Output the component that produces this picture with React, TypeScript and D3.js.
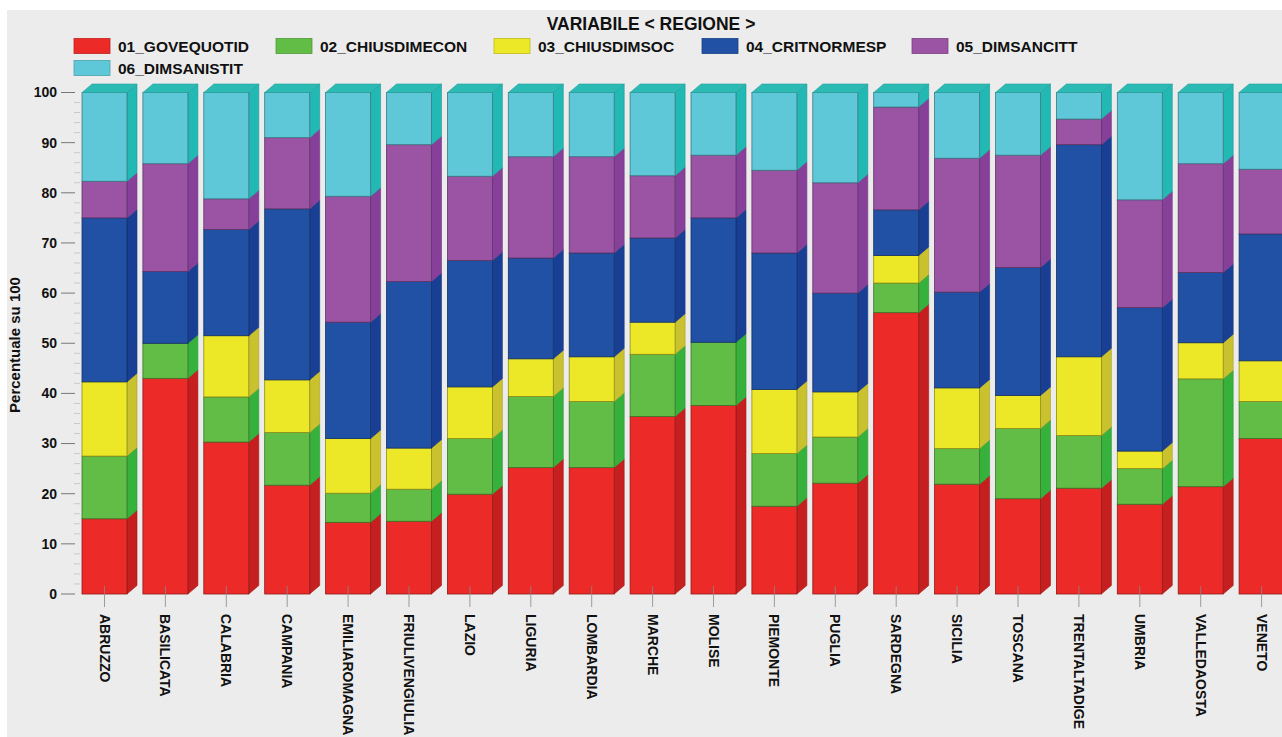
import React from "react";
import * as d3 from "d3";

// Regions on the x axis
const regions = [
  "ABRUZZO", "BASILICATA", "CALABRIA", "CAMPANIA", "EMILIAROMAGNA",
  "FRIULIVENGIULIA", "LAZIO", "LIGURIA", "LOMBARDIA", "MARCHE",
  "MOLISE", "PIEMONTE", "PUGLIA", "SARDEGNA", "SICILIA",
  "TOSCANA", "TRENTALTADIGE", "UMBRIA", "VALLEDAOSTA", "VENETO",
];

// Series names (legend order = stacking order, bottom to top)
const seriesNames = [
  "01_GOVEQUOTID", "02_CHIUSDIMECON", "03_CHIUSDIMSOC",
  "04_CRITNORMESP", "05_DIMSANCITT", "06_DIMSANISTIT",
];

// Percentage shares per region
const govequotid = [15.0, 43.0, 30.3, 21.7, 14.3, 14.5, 19.9, 25.2, 25.2, 35.4, 37.6, 17.5, 22.1, 56.1, 21.9, 19.0, 21.1, 17.9, 21.4, 31.0];
const chiusdimecon = [12.5, 7.0, 9.0, 10.5, 5.8, 6.4, 11.1, 14.2, 13.2, 12.4, 12.6, 10.5, 9.2, 5.9, 7.1, 14.0, 10.5, 7.1, 21.5, 7.4];
const chiusdimsoc = [14.8, 0, 12.2, 10.5, 10.9, 8.2, 10.3, 7.5, 8.9, 6.4, 0, 12.8, 9.0, 5.5, 12.1, 6.6, 15.7, 3.5, 7.2, 8.1];
const critnormesp = [32.7, 14.3, 21.2, 34.1, 23.2, 33.2, 25.2, 20.1, 20.7, 16.8, 24.8, 27.2, 19.7, 9.1, 19.1, 25.5, 42.3, 28.6, 14.0, 25.3];
const dimsancitt = [7.3, 21.5, 6.1, 14.2, 25.1, 27.3, 16.8, 20.2, 19.2, 12.4, 12.5, 16.5, 22.0, 20.5, 26.7, 22.4, 5.1, 21.5, 21.7, 12.9];
const dimsanistit = [17.7, 14.2, 21.2, 9.0, 20.7, 10.4, 16.7, 12.8, 12.8, 16.6, 12.5, 15.5, 18.0, 2.9, 13.1, 12.5, 5.3, 21.4, 14.2, 15.3];

const seriesValues = [govequotid, chiusdimecon, chiusdimsoc, critnormesp, dimsancitt, dimsanistit];

const yTicks = [0, 10, 20, 30, 40, 50, 60, 70, 80, 90, 100];

// Front / side colours per series
const frontColors = ["#ec2a28", "#62bd46", "#ece827", "#2051a4", "#9b53a4", "#5fc8d8"];
const sideColors = ["#c61f20", "#36b23c", "#c9c12e", "#193f95", "#87409a", "#22b8b4"];
const topColor = "#2cbab4";

const W = 1282;
const H = 737;
const FONT = "'Liberation Sans', Arial, sans-serif";

export default function App() {
  const table = regions.map((r, i) => {
    const row: Record<string, any> = { region: r };
    seriesNames.forEach((s, k) => (row[s] = seriesValues[k][i]));
    return row;
  });
  const stacked = d3.stack().keys(seriesNames)(table as any);

  const x = d3
    .scaleBand<string>()
    .domain(regions)
    .range([82, 82 + 19 * 60.9 + 45])
    .paddingInner(15.9 / 60.9)
    .paddingOuter(0);
  const y = d3.scaleLinear().domain([0, 100]).range([594, 92.5]);
  const bw = x.bandwidth();
  const dx = 10;
  const dy = 8.5;

  const minorTicks = d3.range(0, 100, 2).filter((v) => v % 10 !== 0);

  const legendX = [74, 276, 494, 702, 912];

  return (
    <svg
      width={W}
      height={H}
      style={{ position: "absolute", left: 0, top: 0, display: "block" }}
      fontFamily={FONT}
    >
      <rect x={0} y={0} width={W} height={H} fill="#ffffff" />
      <rect x={7} y={10} width={W - 7} height={H - 10} fill="#ececec" />

      {/* title */}
      <text x={651} y={30} textAnchor="middle" fontSize={17.5} fontWeight="bold" fill="#111">
        VARIABILE &lt; REGIONE &gt;
      </text>

      {/* legend */}
      {seriesNames.map((s, k) => {
        const row = k < 5 ? 0 : 1;
        const lx = legendX[k < 5 ? k : 0];
        const ly = 38.5 + row * 22;
        return (
          <g key={s}>
            <rect x={lx} y={ly} width={36} height={15} fill={frontColors[k]} stroke={d3.color(frontColors[k])!.darker(0.6).toString()} strokeWidth={0.8} />
            <text x={lx + 44} y={ly + 13.5} fontSize={15.5} fontWeight="bold" fill="#111">
              {s}
            </text>
          </g>
        );
      })}

      {/* y axis */}
      <text
        transform={`translate(20,345) rotate(-90)`}
        textAnchor="middle"
        fontSize={15}
        fontWeight="bold"
        fill="#111"
      >
        Percentuale su 100
      </text>
      {minorTicks.map((v) => (
        <line key={"m" + v} x1={74} x2={80} y1={y(v)} y2={y(v)} stroke="#c9c9c9" strokeWidth={1} />
      ))}
      {yTicks.map((v) => (
        <g key={v}>
          <line x1={61} x2={75} y1={y(v)} y2={y(v)} stroke="#777" strokeWidth={1} />
          <text x={57} y={y(v)} dy="0.35em" textAnchor="end" fontSize={14} fontWeight="bold" fill="#111">
            {v}
          </text>
        </g>
      ))}

      {/* bars */}
      {regions.map((r, i) => {
        const x0 = x(r)!;
        const x1 = x0 + bw;
        return (
          <g key={r}>
            {stacked.map((layer, k) => {
              const [a, b] = layer[i];
              if (b - a <= 0) return null;
              const yb = y(a);
              const yt = y(b);
              const side = `M${x1},${yt}L${x1 + dx},${yt - dy}L${x1 + dx},${yb - dy}L${x1},${yb}Z`;
              return (
                <g key={k}>
                  <path d={side} fill={sideColors[k]} stroke={d3.color(sideColors[k])!.darker(0.5).toString()} strokeWidth={0.6} />
                  <rect
                    x={x0}
                    y={yt}
                    width={bw}
                    height={yb - yt}
                    fill={frontColors[k]}
                    stroke={d3.color(frontColors[k])!.darker(1.4).toString()}
                    strokeWidth={0.8}
                  />
                </g>
              );
            })}
            <path
              d={`M${x0},${y(100)}L${x0 + dx},${y(100) - dy}L${x1 + dx},${y(100) - dy}L${x1},${y(100)}Z`}
              fill={topColor}
              stroke={d3.color(topColor)!.darker(0.4).toString()}
              strokeWidth={0.6}
            />
            <line
              x1={x0 + bw / 2}
              x2={x0 + bw / 2}
              y1={586}
              y2={607}
              stroke="#888"
              strokeOpacity={0.8}
              strokeWidth={1}
            />
            <text
              transform={`translate(${x0 + bw / 2},614) rotate(90)`}
              dy="0.35em"
              fontSize={14}
              fontWeight="bold"
              fill="#111"
            >
              {r}
            </text>
          </g>
        );
      })}
    </svg>
  );
}
